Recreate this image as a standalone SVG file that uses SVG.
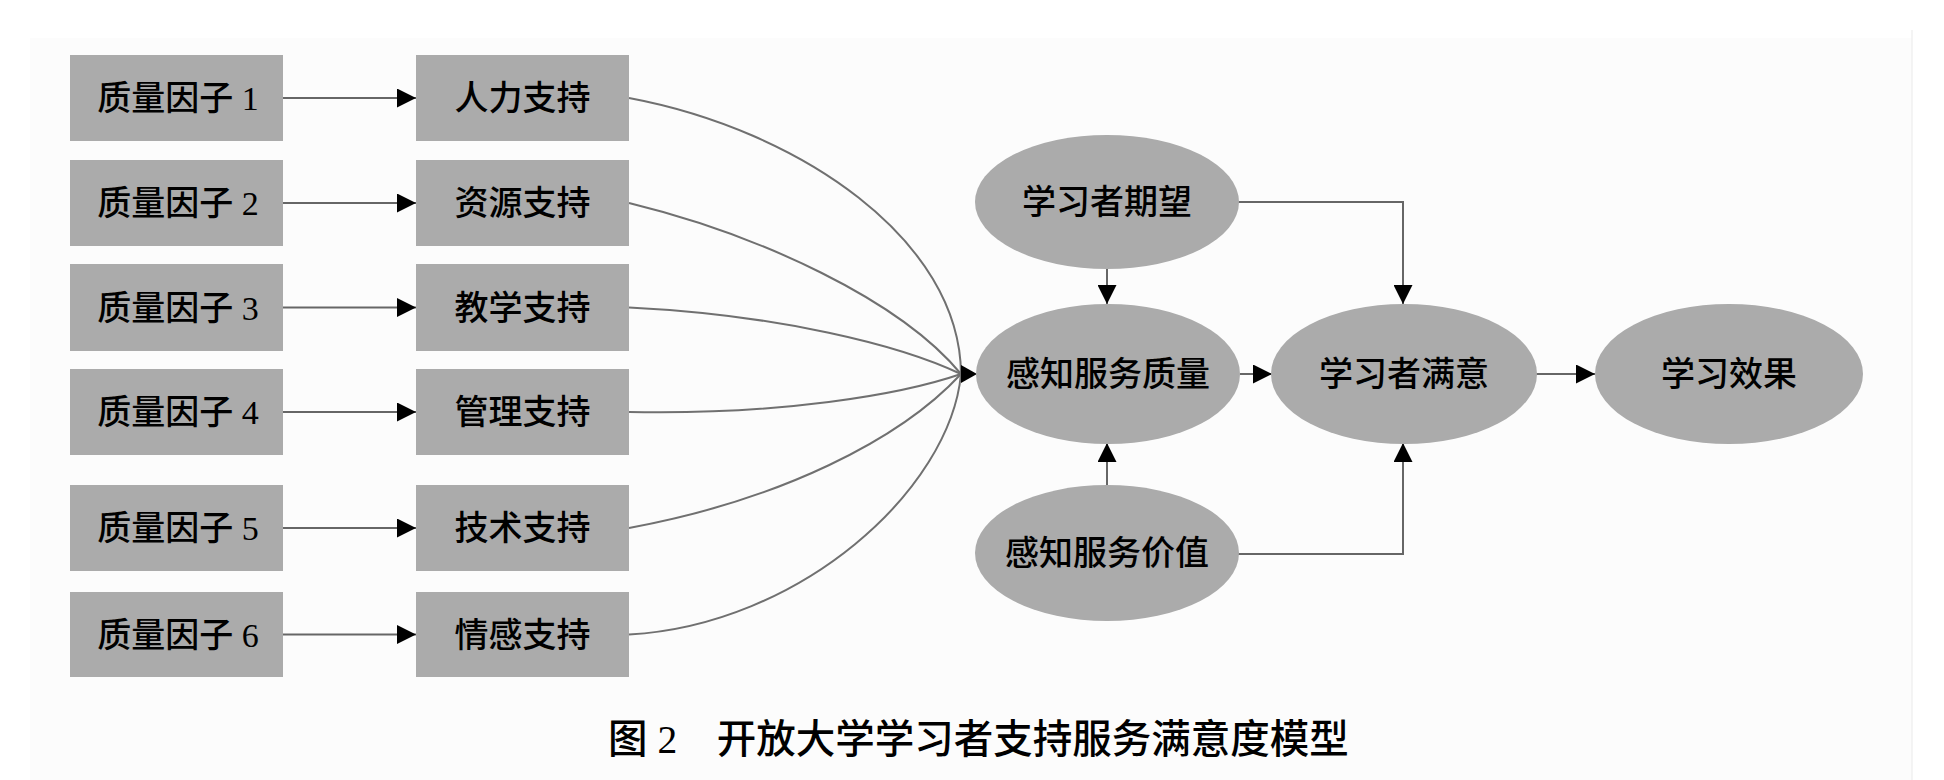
<svg xmlns="http://www.w3.org/2000/svg" width="1944" height="780" viewBox="0 0 1944 780">
<style>
.box{fill:#ababab}
.ell{fill:#ababab}
.t{font-family:"Liberation Serif","Noto Sans CJK SC",serif;font-size:34px;font-weight:500;fill:#000;text-anchor:middle}
.cap{font-family:"Liberation Serif","Noto Sans CJK SC",serif;font-size:39.5px;font-weight:500;fill:#000}
.ln{fill:none;stroke:#666;stroke-width:2}
.cv{fill:none;stroke:#707070;stroke-width:2}
.ah{fill:#000}
</style>
<defs>
<marker id="arr" viewBox="0 0 19 19" refX="19" refY="9.5" markerWidth="19" markerHeight="19" markerUnits="userSpaceOnUse" orient="auto">
<path d="M0,0 L19,9.5 L0,19 Z" fill="#000"/>
</marker>
</defs>
<rect x="0" y="0" width="1944" height="780" fill="#ffffff"/>
<rect x="30" y="38" width="1882" height="742" fill="#fcfcfc"/>
<line x1="1912" y1="30" x2="1912" y2="780" stroke="#f0f0f0" stroke-width="1.5"/>

<g id="connectors">
<line class="ln" x1="283" y1="98" x2="416" y2="98" marker-end="url(#arr)"/>
<line class="ln" x1="283" y1="203" x2="416" y2="203" marker-end="url(#arr)"/>
<line class="ln" x1="283" y1="307.5" x2="416" y2="307.5" marker-end="url(#arr)"/>
<line class="ln" x1="283" y1="412" x2="416" y2="412" marker-end="url(#arr)"/>
<line class="ln" x1="283" y1="528" x2="416" y2="528" marker-end="url(#arr)"/>
<line class="ln" x1="283" y1="634.5" x2="416" y2="634.5" marker-end="url(#arr)"/>
<path class="cv" d="M629,98 C800,130 960,240 961,374"/>
<path class="cv" d="M629,203 C760,235 900,300 961,374"/>
<path class="cv" d="M629,307.5 C780,315 900,345 961,374"/>
<path class="cv" d="M629,412 C780,415 900,395 961,374"/>
<path class="cv" d="M629,528 C780,500 900,440 961,374"/>
<path class="cv" d="M629,634.5 C800,625 950,490 961,374"/>
<polygon class="ah" points="961,365 977,374 961,383"/>
<line class="ln" x1="1107" y1="269" x2="1107" y2="304" marker-end="url(#arr)"/>
<polyline class="ln" points="1238,202 1403,202 1403,304" marker-end="url(#arr)"/>
<line class="ln" x1="1107" y1="485" x2="1107" y2="443" marker-end="url(#arr)"/>
<polyline class="ln" points="1238,554 1403,554 1403,443" marker-end="url(#arr)"/>
<line class="ln" x1="1240" y1="374" x2="1272" y2="374" marker-end="url(#arr)"/>
<line class="ln" x1="1536" y1="374" x2="1595" y2="374" marker-end="url(#arr)"/>
</g>

<g id="f1"><rect class="box" x="70" y="55" width="213" height="86"/><text class="t" x="178" y="110">质量因子 1</text></g>
<g id="f2"><rect class="box" x="70" y="160" width="213" height="86"/><text class="t" x="178" y="215">质量因子 2</text></g>
<g id="f3"><rect class="box" x="70" y="264" width="213" height="87"/><text class="t" x="178" y="319.5">质量因子 3</text></g>
<g id="f4"><rect class="box" x="70" y="369" width="213" height="86"/><text class="t" x="178" y="424">质量因子 4</text></g>
<g id="f5"><rect class="box" x="70" y="485" width="213" height="86"/><text class="t" x="178" y="540">质量因子 5</text></g>
<g id="f6"><rect class="box" x="70" y="592" width="213" height="85"/><text class="t" x="178" y="646.5">质量因子 6</text></g>

<g id="s1"><rect class="box" x="416" y="55" width="213" height="86"/><text class="t" x="522.5" y="110">人力支持</text></g>
<g id="s2"><rect class="box" x="416" y="160" width="213" height="86"/><text class="t" x="522.5" y="215">资源支持</text></g>
<g id="s3"><rect class="box" x="416" y="264" width="213" height="87"/><text class="t" x="522.5" y="319.5">教学支持</text></g>
<g id="s4"><rect class="box" x="416" y="369" width="213" height="86"/><text class="t" x="522.5" y="424">管理支持</text></g>
<g id="s5"><rect class="box" x="416" y="485" width="213" height="86"/><text class="t" x="522.5" y="540">技术支持</text></g>
<g id="s6"><rect class="box" x="416" y="592" width="213" height="85"/><text class="t" x="522.5" y="646.5">情感支持</text></g>

<g id="expect"><ellipse class="ell" cx="1107" cy="202" rx="132" ry="67"/><text class="t" x="1107" y="214">学习者期望</text></g>
<g id="quality"><ellipse class="ell" cx="1108" cy="374" rx="132" ry="70"/><text class="t" x="1108" y="386">感知服务质量</text></g>
<g id="satisfy"><ellipse class="ell" cx="1404" cy="374" rx="133" ry="70"/><text class="t" x="1404" y="386">学习者满意</text></g>
<g id="effect"><ellipse class="ell" cx="1729" cy="374" rx="134" ry="70"/><text class="t" x="1729" y="386">学习效果</text></g>
<g id="value"><ellipse class="ell" cx="1107" cy="553" rx="132" ry="68"/><text class="t" x="1107" y="565">感知服务价值</text></g>

<text class="cap" x="608" y="753">图 2　开放大学学习者支持服务满意度模型</text>
</svg>
